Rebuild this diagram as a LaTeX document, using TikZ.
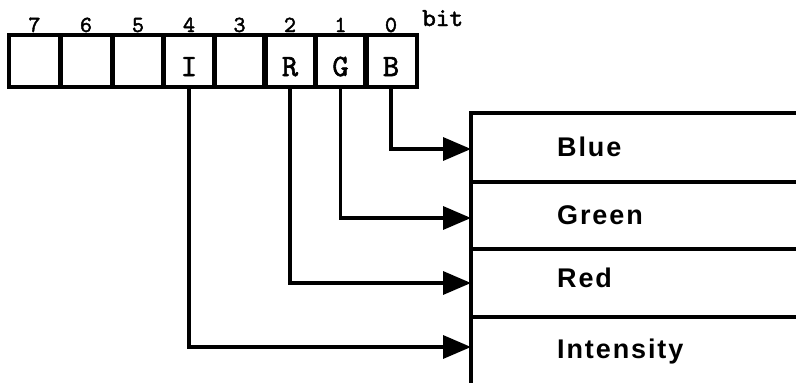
\documentclass[tikz,border=0pt]{standalone}
\usepackage{fontspec}
\newfontfamily\labfont[LetterSpace=7]{Liberation Sans}
\newfontfamily\bitfont[FakeBold=1.8]{lmmono10-regular.otf}
\usetikzlibrary{arrows.meta}
\tikzset{
  bitbox/.style={draw, line width=4.5pt, minimum width=51pt, minimum height=52pt, inner sep=0pt},
  bitchar/.style={font=\fontsize{31}{31}\selectfont\bitfont, anchor=base, inner sep=0pt},
  bitnum/.style={font=\fontsize{23}{23}\selectfont\bitfont, anchor=base, inner sep=0pt},
  conn/.style={line width=3.5pt, -{Triangle[length=28pt,width=23pt]}},
  tline/.style={line width=3.5pt},
  rowlab/.style={font=\fontsize{27}{27}\selectfont\labfont\bfseries, anchor=base west, inner sep=0pt},
}
\begin{document}
\begin{tikzpicture}[x=1pt,y=-1pt]
\useasboundingbox (0,0) rectangle (796,383);
% bit boxes
\foreach \n/\x in {7/34.5,6/86,5/138,4/189,3/239.5,2/290,1/340.5,0/391}{
  \node[bitbox, minimum width=51.5pt] (b\n) at (\x,61) {};
  \node[bitnum] (n\n) at (\x,32) {\n};
}
\node[bitchar] (cI) at (b4 |- 0,76) {I};
\node[bitchar] (cR) at (b2 |- 0,76) {R};
\node[bitchar] (cG) at (b1 |- 0,76) {G};
\node[bitchar] (cB) at (b0 |- 0,76) {B};
\node[font=\fontsize{26}{26}\selectfont\bitfont, anchor=base west, inner sep=0pt] (bitlab) at (422,26) {bit};
% table
\coordinate (tl) at (471,113);
\coordinate (tr) at (800,113);
\coordinate (bl) at (471,390);
\draw[tline] (tr) -- (tl) -- (bl);
\foreach \y in {182,249,317}{
  \draw[tline] (471,\y) -- (800,\y);
}
\coordinate (aB) at (471,149);
\coordinate (aG) at (471,218);
\coordinate (aR) at (471,283);
\coordinate (aI) at (471,347);
\node[rowlab] (lB) at (557,156) {Blue};
\node[rowlab] (lG) at (557,224) {Green};
\node[rowlab] (lR) at (557,287) {Red};
\node[rowlab] (lI) at (557,358) {Intensity};
% connectors
\draw[conn] (b0.south) |- (aB);
\draw[conn] (b1.south) |- (aG);
\draw[conn] (b2.south) |- (aR);
\draw[conn] (b4.south) |- (aI);
\end{tikzpicture}
\end{document}
